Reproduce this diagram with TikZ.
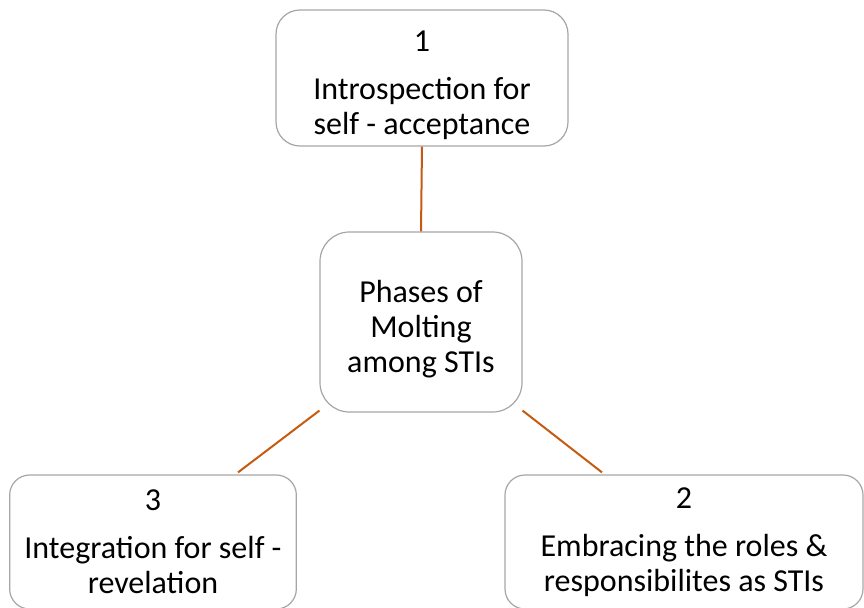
\documentclass[tikz,border=0pt]{standalone}
\usepackage{fontspec}
\setmainfont{Carlito}
\usepackage{xcolor}
\usepackage{tikz}
\usetikzlibrary{positioning,calc}
\definecolor{boxline}{RGB}{166,166,166}
\definecolor{linkline}{RGB}{197,90,17}

\begin{document}
\begin{tikzpicture}[x=0.75pt,y=-0.75pt,
  phase/.style={draw=boxline,line width=0.9pt,fill=white,align=center,
    font=\fontsize{24}{26.25}\selectfont,inner sep=0pt},
  link/.style={draw=linkline,line width=1.5pt}]
\useasboundingbox (0,0) rectangle (864,607);
\node[phase,rounded corners=18pt,minimum width=219pt,minimum height=102pt] (intro) at (422,78) {\rule{0pt}{26pt}1\\[10pt]Introspection for\\self - acceptance};
\node[phase,rounded corners=22pt,minimum width=151.5pt,minimum height=135pt] (mid) at (421,322) {\rule{0pt}{27pt}Phases of\\Molting\\among STIs};
\node[phase,rounded corners=15pt,minimum width=215pt,minimum height=100.5pt] (integ) at (153,542) {3\\[10pt]Integration for self -\\revelation};
\node[phase,rounded corners=15pt,minimum width=268.5pt,minimum height=100.5pt] (embr) at (684,542) {2\\[10pt]Embracing the roles \&\\responsibilites as STIs};
\draw[link] (intro.south)--(mid.north);
\draw[link] ([yshift=1.5pt]mid.south west)--($(integ.north)+(85,-2)$);
\draw[link] ([yshift=1.5pt]mid.south east)--($(embr.north)+(-82,-2)$);
\end{tikzpicture}
\end{document}
